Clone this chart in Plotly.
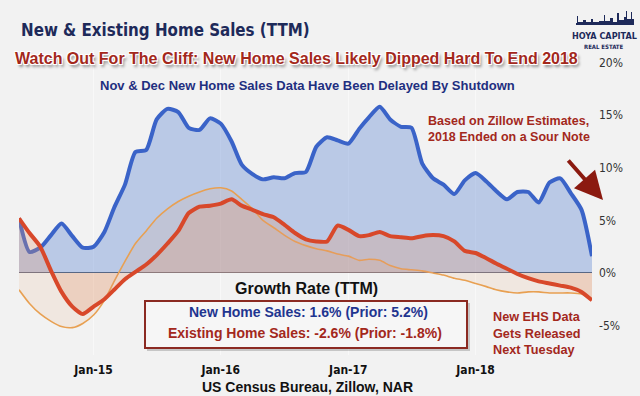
import pandas as pd
import plotly.graph_objects as go

# ---------------- data ----------------
months = pd.date_range("2014-06-01", "2018-12-01", freq="MS")

new_home_sales = [
    5.2, 2.0, 2.4, 3.6, 4.7, 3.5, 2.4, 2.5, 3.9, 6.2,
    8.4, 11.5, 11.7, 14.6, 15.6, 15.3, 13.8, 13.6, 14.7, 14.2,
    12.5, 10.3, 9.4, 8.9, 9.1, 9.0, 9.5, 9.6, 12.0, 12.9,
    12.6, 12.3, 13.7, 14.8, 15.8, 14.6, 13.9, 13.8, 10.4, 9.0,
    8.4, 7.5, 8.8, 9.5, 8.7, 7.8, 7.0, 7.7, 7.7, 6.7,
    8.6, 9.0, 7.6, 6.0, 1.6,
]
existing_home_sales = [
    5.2, 3.8, 2.5, 0.2, -1.8, -3.2, -3.9, -3.2, -2.5, -1.6,
    -0.6, 0.1, 0.8, 1.7, 2.8, 4.0, 5.7, 6.3, 6.4, 6.6,
    7.0, 6.4, 6.0, 5.6, 5.3, 4.6, 3.8, 3.2, 3.0, 3.0,
    4.5, 4.1, 3.5, 3.6, 3.9, 3.5, 3.4, 3.3, 3.5, 3.6,
    3.5, 3.0, 2.1, 1.9, 1.4, 0.9, 0.4, -0.1, -0.5, -0.8,
    -1.0, -1.2, -1.4, -1.8, -2.6,
]
existing_alt = [
    -1.6, -2.9, -3.9, -4.6, -5.1, -5.2, -4.8, -4.0, -2.6, -0.8,
    1.1, 2.8, 4.0, 5.2, 6.1, 6.8, 7.3, 7.7, 8.0, 8.1,
    7.8, 7.0, 6.1, 5.0, 4.3, 3.6, 3.0, 2.6, 2.3, 2.1,
    1.8, 1.6, 1.2, 1.3, 1.2, 0.7, 0.4, 0.3, 0.2, 0.0,
    -0.2, -0.5, -0.7, -1.0, -1.3, -1.6, -1.8, -1.9, -1.8, -1.8,
    -1.9, -1.9, -1.9, -2.0, -2.5,
]
y_ticks = [-5, 0, 5, 10, 15, 20]
y_tick_labels = ["-5%", "0%", "5%", "10%", "15%", "20%"]

# ---------------- styles ----------------
NARROW = "DejaVu Sans Condensed, Liberation Sans Narrow, Arial Narrow, sans-serif"
SANS = "Liberation Sans, Arial, Helvetica, sans-serif"
BG = "#F2F2F2"
NAVY = "#1E2A5A"
DARKRED = "#A3281C"

fig = go.Figure()
fig.add_trace(go.Scatter(
    x=months, y=new_home_sales, mode="lines", fill="tozeroy",
    fillcolor="rgba(95,135,210,0.38)",
    line=dict(color="#3A63C8", width=4, shape="spline", smoothing=0.6),
    hoverinfo="skip"))
fig.add_trace(go.Scatter(
    x=months, y=existing_alt, mode="lines", fill="tozeroy",
    fillcolor="rgba(235,170,120,0.14)",
    line=dict(color="#E8A052", width=1.6, shape="spline", smoothing=0.6),
    hoverinfo="skip"))
fig.add_trace(go.Scatter(
    x=months, y=existing_home_sales, mode="lines", fill="tozeroy",
    fillcolor="rgba(225,150,110,0.28)",
    line=dict(color="#D8482A", width=4, shape="spline", smoothing=0.6),
    hoverinfo="skip"))

# plot area: x 19..592, y 50..355 (pixels)
L, R, T, B = 19, 592, 50, 355
def px(x):
    return (x - L) / (R - L)
def py(y):
    return (B - y) / (B - T)

annotations = [
    dict(text="New & Existing Home Sales (TTM)", x=px(19), y=py(30), xanchor="left",
         yanchor="middle", font=dict(family=NARROW, size=16.8, color=NAVY, weight="bold")),
    dict(text="<b>Watch Out For The Cliff: New Home Sales Likely Dipped Hard To End 2018</b>",
         x=px(296), y=py(58), xanchor="center", yanchor="middle",
         font=dict(family=SANS, size=16, color=DARKRED,
                   shadow="-1px -1px 0 #fff, 1px -1px 0 #fff, -1px 1px 0 #fff, 1px 1px 0 #fff, 2px 3px 3px rgba(0,0,0,0.45)")),
    dict(text="<b>Nov & Dec New Home Sales Data Have Been Delayed By Shutdown</b>",
         x=px(307), y=py(85), xanchor="center", yanchor="middle",
         font=dict(family=SANS, size=13, color="#1F2F80")),
    dict(text="<b>HOYA CAPITAL</b>", x=px(604), y=py(36), xanchor="center", yanchor="middle",
         font=dict(family=NARROW, size=9, color=NAVY)),
    dict(text="<b>REAL ESTATE</b>", x=px(604), y=py(47), xanchor="center", yanchor="middle",
         font=dict(family=NARROW, size=6, color=NAVY)),
    dict(text="<b>Based on Zillow Estimates,<br>2018 Ended on a Sour Note</b>",
         x=px(426), y=py(129), xanchor="left", yanchor="middle", align="left",
         font=dict(family=SANS, size=12.5, color=DARKRED)),
    dict(text="", x=px(603), y=py(200), ax=-36, ay=-41, showarrow=True,
         arrowhead=2, arrowsize=1.4, arrowwidth=4, arrowcolor="#8B1A10", standoff=0),
    dict(text="<b>Growth Rate (TTM)</b>", x=px(306), y=py(288), xanchor="center",
         yanchor="middle", font=dict(family=SANS, size=16, color="#111111")),
    dict(text="<b>New Home Sales: 1.6% (Prior: 5.2%)</b>", x=px(308), y=py(312),
         xanchor="center", yanchor="middle",
         font=dict(family=SANS, size=14, color="#1F3590")),
    dict(text="<b>Existing Home Sales: -2.6% (Prior: -1.8%)</b>", x=px(305), y=py(333),
         xanchor="center", yanchor="middle",
         font=dict(family=SANS, size=14, color=DARKRED)),
    dict(text="<b>New EHS Data<br>Gets Released<br>Next Tuesday</b>", x=px(491), y=py(333),
         xanchor="left", yanchor="middle", align="left",
         font=dict(family=SANS, size=12.7, color=DARKRED)),
    dict(text="<b>US Census Bureau, Zillow, NAR</b>", x=px(307), y=py(387),
         xanchor="center", yanchor="middle",
         font=dict(family=SANS, size=14, color="#111111")),
]
for a in annotations:
    a.setdefault("showarrow", False)
    a["xref"] = "paper"
    a["yref"] = "paper"

shapes = [
    # box shadow and box
    dict(type="rect", xref="paper", yref="paper", x0=px(147), x1=px(470), y0=py(351), y1=py(303),
         fillcolor="rgba(0,0,0,0.18)", line=dict(width=0), layer="above"),
    dict(type="rect", xref="paper", yref="paper", x0=px(145), x1=px(467), y0=py(348), y1=py(301),
         fillcolor="#F6F6F6", line=dict(color="#8B2A22", width=2), layer="above"),
    # logo skyline
    dict(type="path", xref="paper", yref="paper", xsizemode="pixel", ysizemode="pixel",
         xanchor=px(576), yanchor=py(25),
         path="M0,0 V2 H1 V9 H2 V3 H7 V5 H10 V3 H15 V6 H17 V3 H23 V4 H28 V10 H29 V4 H34 V7 H37 V3 H41 V12 H43 V5 H48 V8 H50 V14 H51 V6 H55 V13 H56 V6 H58 V0 Z",
         fillcolor=NAVY, line=dict(width=0)),
]

fig.update_layout(
    width=640, height=396,
    margin=dict(l=L, r=640 - R, t=T, b=396 - B),
    paper_bgcolor=BG, plot_bgcolor=BG,
    showlegend=False,
    annotations=annotations,
    shapes=shapes,
    xaxis=dict(
        range=[months[0], months[-1]], type="date",
        tick0="2015-01-01", dtick="M12", tickformat="%b-%y",
        showgrid=True, gridcolor="#F8F8F8", gridwidth=1,
        zeroline=False, showline=False, ticks="", ticklabelstandoff=6,
        tickfont=dict(family=NARROW, size=12, color="#111111", weight="bold"),
    ),
    yaxis=dict(
        range=[-7.8, 21.2], side="right",
        tickvals=y_ticks, ticktext=y_tick_labels,
        showgrid=False, zeroline=True, zerolinecolor="#555555", zerolinewidth=1.2,
        showline=False, ticks="", ticklabelstandoff=6,
        tickfont=dict(family=NARROW, size=12, color="#333333"),
    ),
)

fig.write_html(
    "out.html",
    config={"displayModeBar": False},
    post_script="document.body.style.margin='0';document.body.style.background='%s';" % BG,
)
